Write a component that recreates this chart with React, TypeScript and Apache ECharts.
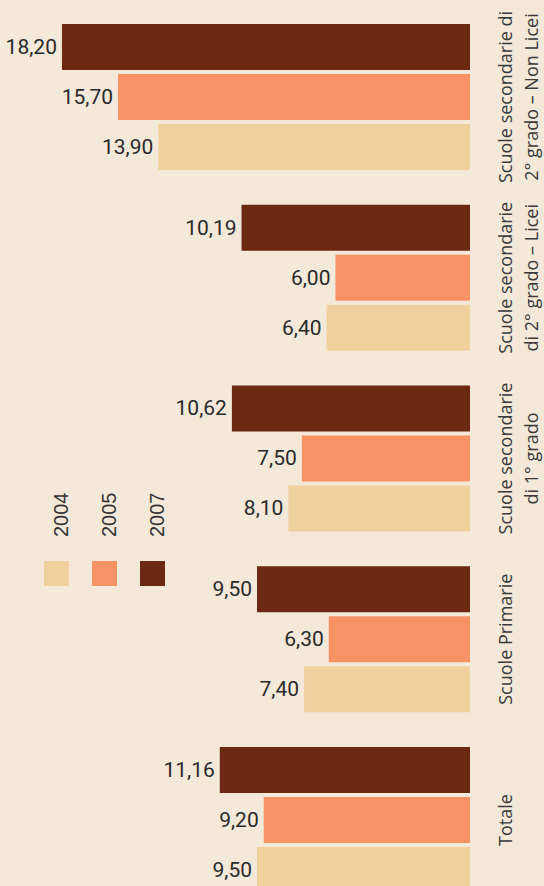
import React, { useEffect, useRef } from "react";
import * as echarts from "echarts";

const categories = [
  "Scuole secondarie di\n2° grado – Non Licei",
  "Scuole secondarie\ndi 2° grado – Licei",
  "Scuole secondarie\ndi 1° grado",
  "Scuole Primarie",
  "Totale",
];
const years = ["2004", "2005", "2007"];
const values2004 = [13.9, 6.4, 8.1, 7.4, 9.5];
const values2005 = [15.7, 6.0, 7.5, 6.3, 9.2];
const values2007 = [18.2, 10.19, 10.62, 9.5, 11.16];
const colors: Record<string, string> = {
  "2004": "#F0D09D",
  "2005": "#F79265",
  "2007": "#6B2912",
};

const fmt = (v: number) => v.toFixed(2).replace(".", ",");

export default function App() {
  const ref = useRef<HTMLDivElement>(null);
  useEffect(() => {
    if (!ref.current) return;
    const chart = echarts.init(ref.current, undefined, { renderer: "svg" });
    const seriesDefs = [
      { name: "2007", data: values2007 },
      { name: "2005", data: values2005 },
      { name: "2004", data: values2004 },
    ];
    const legendGraphics: any[] = [];
    years.forEach((y, i) => {
      legendGraphics.push({
        type: "rect",
        left: 44 + 48 * i,
        top: 561,
        shape: { width: 25, height: 25 },
        style: { fill: colors[y] },
      });
      legendGraphics.push({
        type: "text",
        x: 60.5 + 48 * i,
        y: 537,
        rotation: Math.PI / 2,
        style: {
          text: y,
          fill: "#333333",
          font: '20px "Liberation Sans", Arial, sans-serif',
          textAlign: "left",
          textVerticalAlign: "middle",
        },
      });
    });
    chart.setOption({
      animation: false,
      backgroundColor: "#F4E8D8",
      grid: { left: 21.6, width: 451.4, top: 6.6, height: 903.75, containLabel: false },
      xAxis: {
        type: "value",
        min: 0,
        max: 20,
        inverse: true,
        show: false,
      },
      yAxis: {
        type: "category",
        data: categories,
        inverse: true,
        position: "right",
        axisLine: { show: false },
        axisTick: { show: false },
        axisLabel: {
          interval: 0,
          rotate: 90,
          margin: 22,
          fontFamily: '"Open Sans", sans-serif',
          fontSize: 18,
          lineHeight: 26,
          color: "#3a3a3a",
        },
      },
      series: seriesDefs.map((s) => ({
        type: "bar",
        name: s.name,
        data: s.data,
        barWidth: 46,
        barGap: "8.7%",
        itemStyle: { color: colors[s.name] },
        label: {
          show: true,
          position: "left",
          distance: 5,
          formatter: (p: any) => fmt(p.value),
          fontFamily: "Roboto, sans-serif",
          fontSize: 21,
          color: "#2a2a2a",
        },
      })),
      graphic: legendGraphics,
    });
    return () => chart.dispose();
  }, []);
  return (
    <div style={{ position: "absolute", left: 0, top: 0, width: 544, height: 886, overflow: "hidden" }}>
      <div ref={ref} style={{ width: 544, height: 920 }} />
    </div>
  );
}
